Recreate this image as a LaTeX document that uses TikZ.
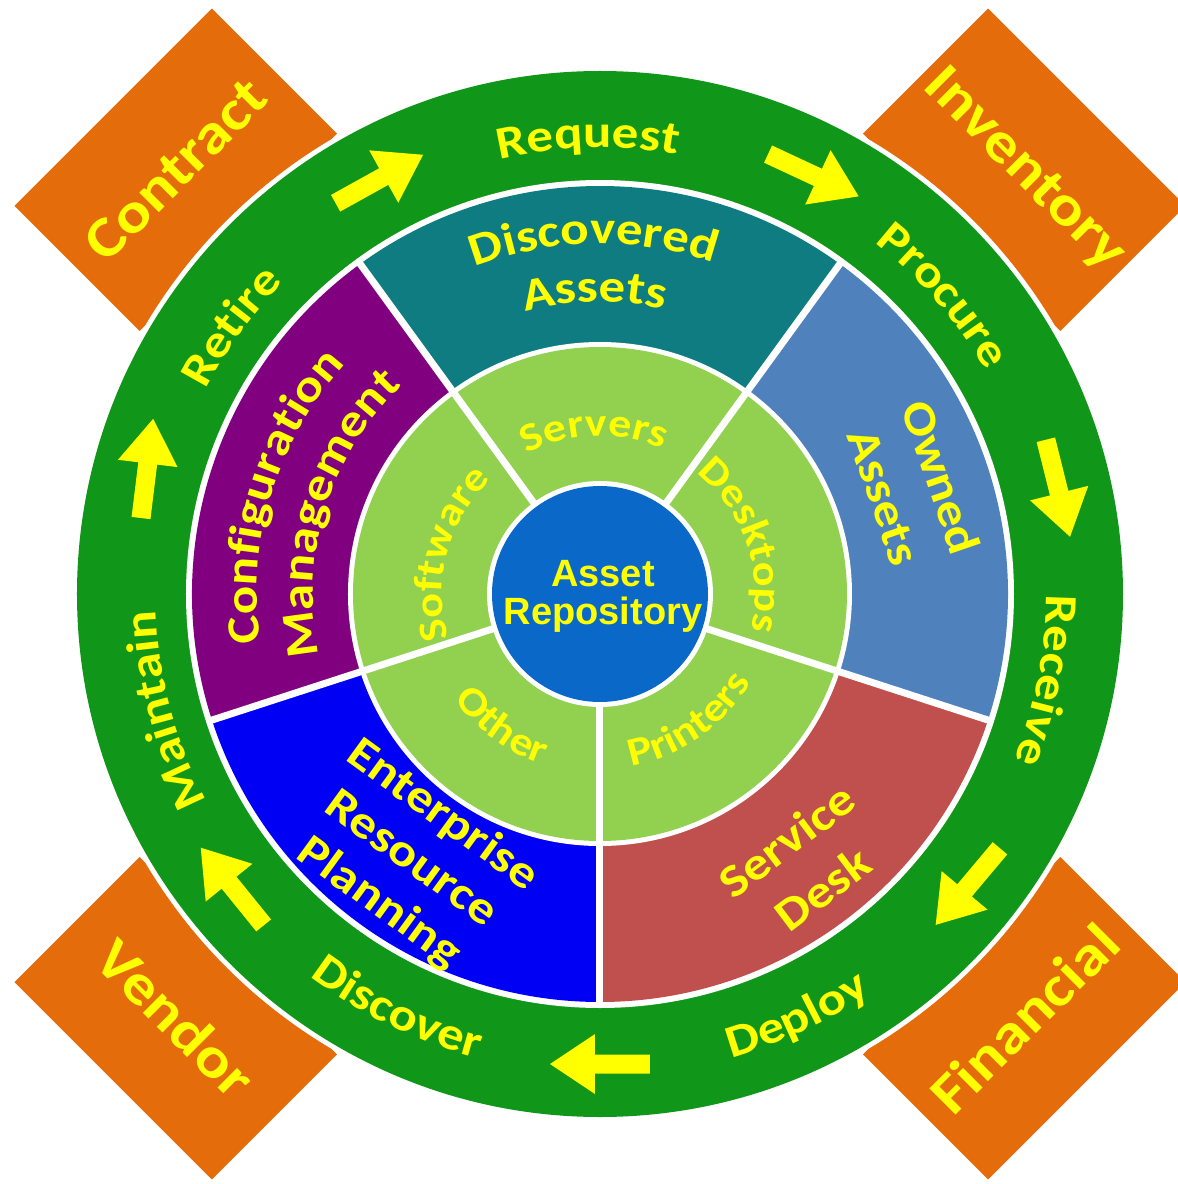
\documentclass[tikz,border=0pt]{standalone}
\usepackage{fontspec}
\newfontfamily\lbl[FakeStretch=1.15]{Carlito}
\newfontfamily\ctrfont{Liberation Sans}
\usetikzlibrary{decorations.text}
\definecolor{ringgreen}{RGB}{16,150,24}
\definecolor{tealc}{RGB}{14,124,128}
\definecolor{ownedc}{RGB}{79,129,189}
\definecolor{deskc}{RGB}{192,80,77}
\definecolor{erpc}{RGB}{0,0,245}
\definecolor{confc}{RGB}{128,0,128}
\definecolor{lightg}{RGB}{146,208,80}
\definecolor{centerblue}{RGB}{10,105,200}
\definecolor{boxorange}{RGB}{228,108,10}
\definecolor{ylw}{RGB}{255,255,0}
\newcommand\outtext[4]{\path[decorate,decoration={text along path,text align=center,text color=ylw,
  text={|\lbl\bfseries\fontsize{#3}{#3}\selectfont|#4}}] (#1+70:#2) arc[start angle=#1+70,end angle=#1-70,radius=#2pt];}
\newcommand\intext[4]{\path[decorate,decoration={text along path,text align=center,text color=ylw,
  text={|\lbl\bfseries\fontsize{#3}{#3}\selectfont|#4}}] (#1-70:#2) arc[start angle=#1-70,end angle=#1+70,radius=#2pt];}
\newcommand\flowarrow[2]{\fill[ylw,shift={(#1:470)},rotate=#2]
  (-50,-9.5) -- (5,-9.5) -- (5,-30) -- (50,0) -- (5,30) -- (5,9.5) -- (-50,9.5) -- cycle;}
\begin{document}
\begin{tikzpicture}[x=1pt,y=1pt,
  obox/.style={fill=boxorange,minimum width=279pt,minimum height=177pt,inner sep=0pt,text=ylw,
    font=\lbl\bfseries\fontsize{57}{57}\selectfont},
  seglabel/.style={text=ylw,align=center,inner sep=0pt,font=\lbl\bfseries\fontsize{46}{60}\selectfont}]
\useasboundingbox (-600,-590) rectangle (578,594);
\fill[white] (-600,-590) rectangle (578,594);
% corner boxes
\node[obox,rotate=45] (contract) at (135:600) {Contract};
\node[obox,rotate=-45] (inventory) at (45:600) {Inventory};
\node[obox,rotate=-45] (vendor) at (225:600) {Vendor};
\node[obox,rotate=45] (financial) at (315:600) {Financial};
% outer ring
\fill[white] (0,0) circle[radius=528pt];
\fill[ringgreen] (0,0) circle[radius=523pt];
\fill[white] (0,0) circle[radius=414pt];
% segments
\fill[tealc] (0,0) -- (54:408) arc[start angle=54,end angle=126,radius=408pt] -- cycle;
\fill[confc] (0,0) -- (126:408) arc[start angle=126,end angle=198,radius=408pt] -- cycle;
\fill[erpc] (0,0) -- (198:408) arc[start angle=198,end angle=270,radius=408pt] -- cycle;
\fill[deskc] (0,0) -- (270:408) arc[start angle=270,end angle=342,radius=408pt] -- cycle;
\fill[ownedc] (0,0) -- (-18:408) arc[start angle=-18,end angle=54,radius=408pt] -- cycle;
\foreach \a in {-90,-18,54,126,198} \draw[white,line width=7pt] (0,0) -- (\a:411);
% inner ring
\fill[white] (0,0) circle[radius=252pt];
\fill[lightg] (0,0) circle[radius=247pt];
\foreach \a in {-90,-18,54,126,198} \draw[white,line width=7pt] (0,0) -- (\a:249);
% centre
\fill[white] (0,0) circle[radius=113pt];
\fill[centerblue] (0,0) circle[radius=108pt];
\node[text=ylw,align=center,inner sep=0pt,font=\ctrfont\bfseries\fontsize{38}{38}\selectfont] (repo) at (3,-2) {Asset\\Repository};
% arrows
\flowarrow{118}{29}
\flowarrow{63}{-25}
\flowarrow{13}{-76}
\flowarrow{-38.5}{-130}
\flowarrow{-90}{180}
\flowarrow{-141.5}{129}
\flowarrow{164.5}{83}
% outer ring labels
\outtext{91.5}{446}{46}{Request}
\outtext{41}{446}{46}{Procure}
\outtext{-11}{446}{46}{Receive}
\intext{-65}{482}{46}{Deploy}
\intext{-116}{480}{46}{Discover}
\outtext{195}{444}{46}{Maintain}
\outtext{144}{444}{46}{Retire}
% segment labels
\outtext{91}{350}{46}{Discovered}
\outtext{91}{292}{46}{Assets}
\outtext{163}{343}{46}{Configuration}
\outtext{163}{287}{46}{Management}
\node[seglabel,rotate=-71] (owned) at (18.9:331) {Owned\\Assets};
\node[seglabel,rotate=37] (service) at (-52.9:339) {Service\\Desk};
\node[seglabel,rotate=-36,font=\lbl\bfseries\fontsize{46}{54}\selectfont] (erp) at (234.5:326) {Enterprise\\Resource\\Planning};
% inner ring labels
\outtext{92}{158}{40}{Servers}
\outtext{19}{155}{40}{Desktops}
\outtext{165}{158}{40}{Software}
\intext{-55}{175}{40}{Printers}
\intext{233.5}{180}{40}{Other}
\end{tikzpicture}
\end{document}
